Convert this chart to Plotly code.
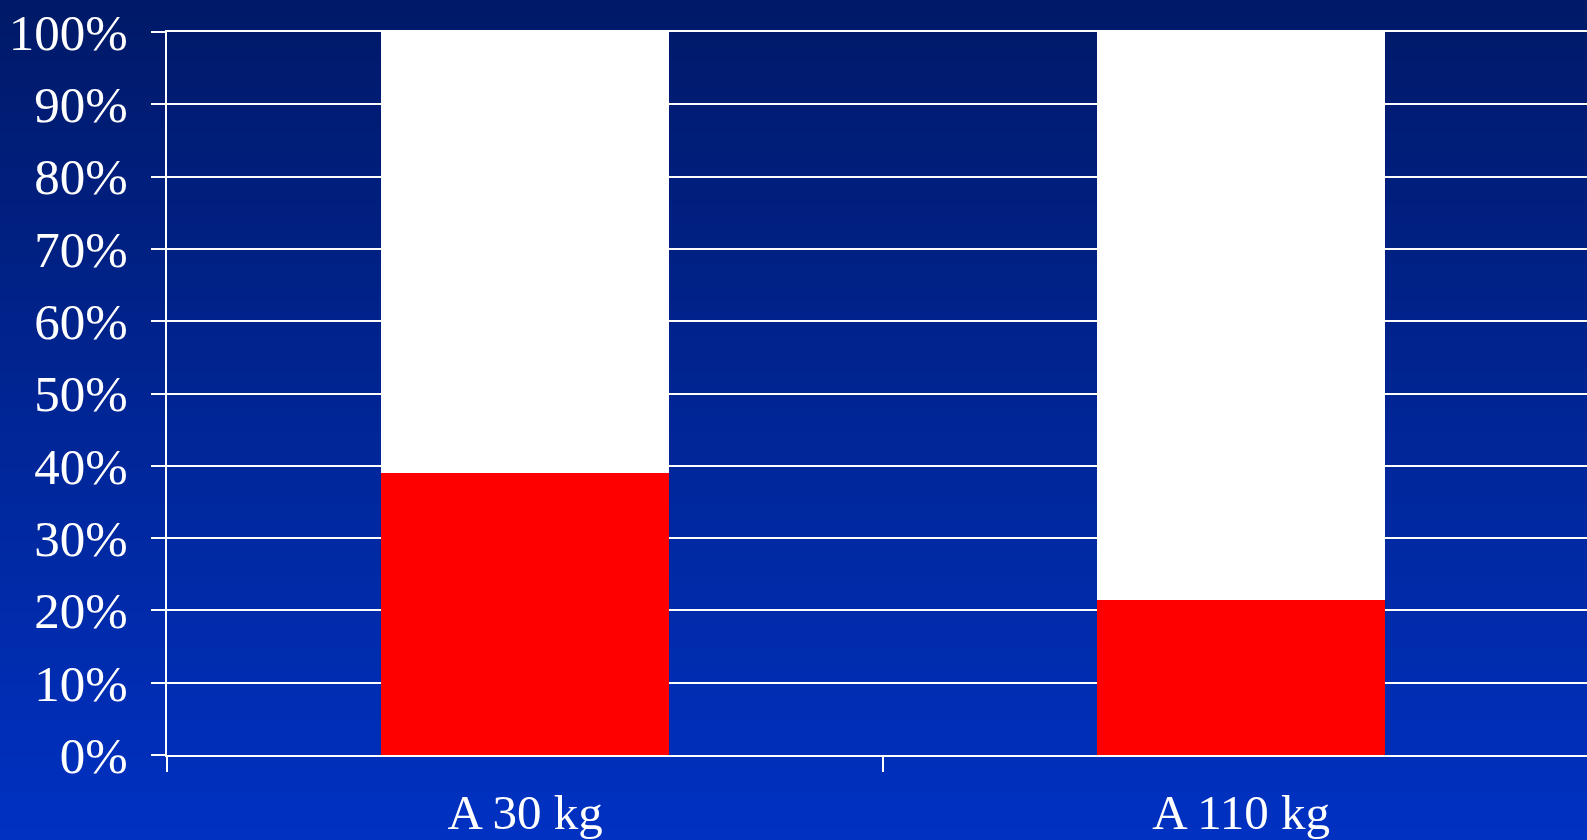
import plotly.graph_objects as go

categories = ["A 30 kg", "A 110 kg"]
red_values = [0.39, 0.214]
white_values = [0.61, 0.786]
y_ticks = [0, 0.1, 0.2, 0.3, 0.4, 0.5, 0.6, 0.7, 0.8, 0.9, 1.0]
y_tick_labels = ["0%", "10%", "20%", "30%", "40%", "50%", "60%", "70%", "80%", "90%", "100%"]

W, H = 1587, 840
ml, mr, mt, mb = 167, 0, 32, 85
plot_h = H - mt - mb

fig = go.Figure()
fig.add_trace(go.Bar(x=categories, y=red_values, marker=dict(color="#ff0000", line=dict(width=0)), showlegend=False))
fig.add_trace(go.Bar(x=categories, y=white_values, marker=dict(color="#ffffff", line=dict(width=0)), showlegend=False))

# vertical gradient background built from thin bands
top = (0, 25, 104)
bot = (0, 49, 194)
n = 70
shapes = []
y_lo = -mb / plot_h
y_hi = 1 + mt / plot_h
for i in range(n):
    t0 = i / n
    t1 = (i + 1) / n
    t = (i + 0.5) / n
    c = tuple(round(bot[k] + (top[k] - bot[k]) * t) for k in range(3))
    shapes.append(dict(type="rect", xref="paper", yref="paper", layer="below",
                       x0=-ml / (W - ml - mr), x1=1.0,
                       y0=y_lo + (y_hi - y_lo) * t0, y1=y_lo + (y_hi - y_lo) * t1 + 0.002,
                       fillcolor="rgb(%d,%d,%d)" % c, line=dict(width=0)))

font_family = "Liberation Serif, Times New Roman, serif"
fig.update_layout(
    width=W, height=H,
    margin=dict(l=ml, r=mr, t=mt, b=mb, pad=0),
    barmode="stack", bargap=0.598,
    paper_bgcolor="#0026a0", plot_bgcolor="rgba(0,0,0,0)",
    font=dict(family=font_family, color="white", size=50),
    shapes=shapes,
    xaxis=dict(range=[-0.5, 1.483], showgrid=False, zeroline=False,
               showline=True, linecolor="white", linewidth=2, mirror=True,
               ticks="outside", tickson="boundaries", ticklen=15, tickwidth=2, tickcolor="white",
               ticklabelstandoff=13,
               tickfont=dict(size=49, color="white", family=font_family)),
    yaxis=dict(range=[0, 1], tickvals=y_ticks, ticktext=y_tick_labels,
               showgrid=True, gridcolor="white", gridwidth=2, zeroline=False,
               showline=True, linecolor="white", linewidth=2,
               ticks="outside", ticklen=14, tickwidth=2, tickcolor="white",
               ticklabelstandoff=13,
               tickfont=dict(size=51, color="white", family=font_family)),
)

fig.write_html("out.html", config={"displayModeBar": False},
               post_script="document.body.style.margin='0';document.body.style.background='#0026a0';")
